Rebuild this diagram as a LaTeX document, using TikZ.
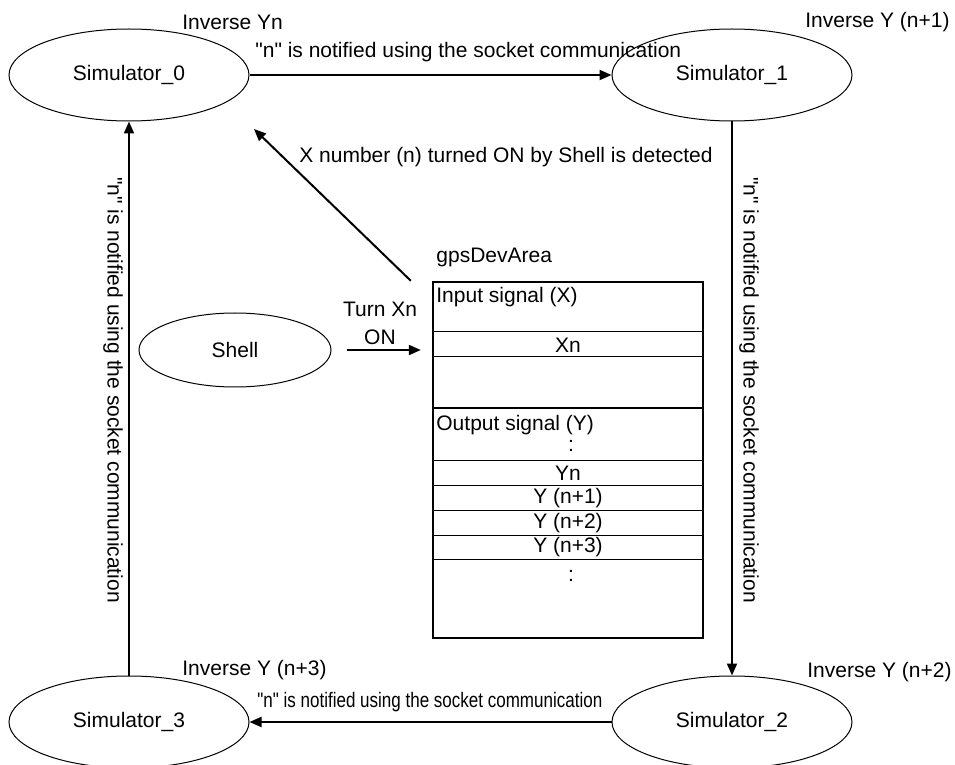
\documentclass[tikz,border=0pt]{standalone}
\usepackage{fontspec}
\setmainfont{Liberation Sans}
\usepackage{graphicx}
\usetikzlibrary{shapes.geometric,arrows.meta}
\newcommand{\notifytext}{\textquotedbl n\textquotedbl{} is notified using the socket communication}

\begin{document}
\begin{tikzpicture}[
  x=0.5pt, y=-0.5pt,
  every node/.style={font=\fontsize{10.5}{14}\selectfont, inner sep=0pt},
  sim/.style={draw, ellipse, line width=0.5pt, minimum width=120pt, minimum height=46pt},
  arr/.style={line width=1pt, -{Triangle[length=6pt,width=5pt]}},
  row/.style={line width=0.5pt},
  lbl/.style={anchor=west}
]
\useasboundingbox (0,0) rectangle (955,765);

\node[sim] (sim0) at (129,75) {Simulator\_0};
\node[sim] (sim1) at (732,75) {Simulator\_1};
\node[sim] (sim2) at (732,722) {Simulator\_2};
\node[sim] (sim3) at (129,722) {Simulator\_3};
\node[sim, minimum width=96pt, minimum height=37pt] (shell) at (235,350) {Shell};

\node[lbl] (inv0) at (182,22) {Inverse Yn};
\node[lbl] (inv1) at (805,22) {Inverse Y (n+1)};
\node[lbl] (inv2) at (807,672) {Inverse Y (n+2)};
\node[lbl] (inv3) at (182,670) {Inverse Y (n+3)};

\draw[arr] (sim0) -- (sim1);
\draw[arr] (sim1) -- (sim2);
\draw[arr] (sim2) -- (sim3);
\draw[arr] (sim3) -- (sim0);

\node[lbl] (nottop) at (255,52) {\notifytext};
\node[rotate=-90] (notright) at (749,390) {\notifytext};
\node[lbl] (notbot) at (257,702) {\scalebox{0.81}[1]{\notifytext}};
\node[rotate=-90] (notleft) at (113,390) {\notifytext};

% device area
\node[lbl] (devlbl) at (436,257) {gpsDevArea};
\node[draw, line width=1.2pt, minimum width=135pt, minimum height=178pt] (dev) at (568,460) {};
\foreach \yy in {332,357,460,485,510,535,559}
  \draw[row] (dev.west |- 0,\yy) -- (dev.east |- 0,\yy);
\draw[line width=1.2pt] (dev.west |- 0,408) -- (dev.east |- 0,408);

\node[lbl] (insig) at (436,297) {Input signal (X)};
\node (xn) at (568,345) {Xn};
\node[lbl] (outsig) at (436,425) {Output signal (Y)};
\node (dotsa) at (571,446) {:};
\foreach \yy/\tx/\nm in {473/Yn/yn, 498/Y (n+1)/yone, 523/Y (n+2)/ytwo, 547/Y (n+3)/ythree}
  \node (\nm) at (568,\yy) {\tx};
\node (dotsb) at (571,576) {:};

\draw[arr, shorten >=5.5pt] ([xshift=7.5pt]shell.east) -- (dev.west |- shell.east);
\node[align=center] (turn) at (380,323) {Turn Xn\\ON};

\coordinate (det) at (254,129);
\draw[arr] ([xshift=-10.5pt]dev.north west) -- (det);
\node[lbl] (detlbl) at (299,157) {X number (n) turned ON by Shell is detected};
\end{tikzpicture}
\end{document}
